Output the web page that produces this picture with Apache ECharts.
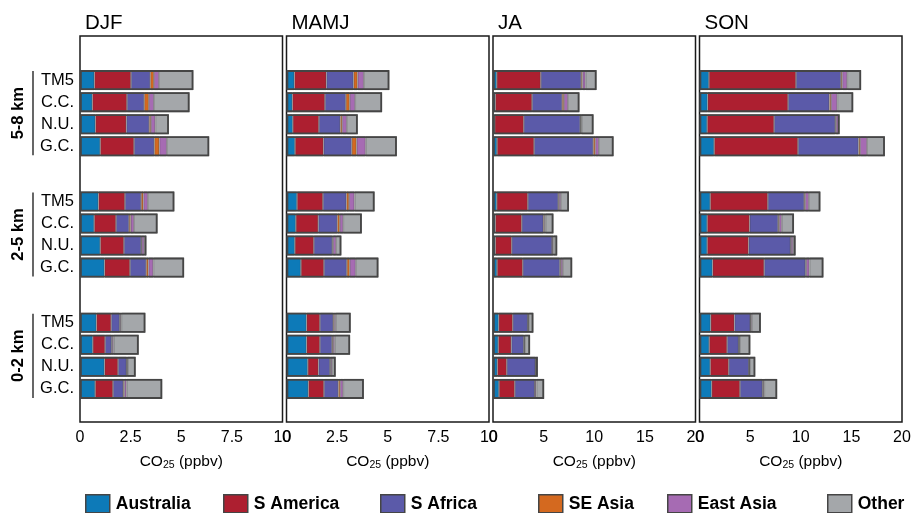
<!DOCTYPE html>
<html>
<head>
<meta charset="utf-8">
<script src="https://cdn.jsdelivr.net/npm/echarts@6/dist/echarts.min.js"></script>
<style>
html,body{margin:0;padding:0;background:#fff;}
#chart{width:916px;height:513px;}
</style>
</head>
<body>
<div id="chart"></div>
<script>
// ---- Data ----
const seasons = ['DJF', 'MAMJ', 'JA', 'SON'];
const altitudes = ['5-8 km', '2-5 km', '0-2 km'];
const models = ['TM5', 'C.C.', 'N.U.', 'G.C.'];
const regions = ['Australia', 'S America', 'S Africa', 'SE Asia', 'East Asia', 'Other'];
const xMax = [10, 10, 20, 20];
const xInterval = [2.5, 2.5, 5, 5];
const axisTitle = 'CO{s|25} (ppbv)';

// values ordered: 5-8 km (TM5, C.C., N.U., G.C.), 2-5 km (...), 0-2 km (...)
const djfAustralia = [0.71, 0.61, 0.76, 1.00, 0.91, 0.70, 1.00, 1.21, 0.81, 0.63, 1.21, 0.75];
const djfSAmerica  = [1.81, 1.71, 1.53, 1.67, 1.31, 1.08, 1.17, 1.26, 0.73, 0.61, 0.67, 0.88];
const djfSAfrica   = [0.95, 0.85, 1.13, 1.00, 0.80, 0.64, 0.85, 0.80, 0.42, 0.32, 0.42, 0.51];
const djfSEAsia    = [0.18, 0.23, 0.08, 0.25, 0.11, 0.08, 0.03, 0.11, 0.03, 0.03, 0.02, 0.05];
const djfEastAsia  = [0.25, 0.25, 0.22, 0.37, 0.22, 0.17, 0.12, 0.24, 0.05, 0.07, 0.03, 0.11];
const djfOther     = [1.70, 1.76, 0.67, 2.09, 1.31, 1.16, 0.11, 1.52, 1.19, 1.24, 0.40, 1.76];

const mamjAustralia = [0.39, 0.29, 0.31, 0.42, 0.52, 0.46, 0.41, 0.71, 0.99, 0.99, 1.05, 1.08];
const mamjSAmerica  = [1.58, 1.61, 1.29, 1.41, 1.28, 1.11, 0.94, 1.14, 0.66, 0.66, 0.53, 0.77];
const mamjSAfrica   = [1.34, 1.03, 1.06, 1.39, 1.16, 0.94, 0.91, 1.13, 0.66, 0.60, 0.57, 0.71];
const mamjSEAsia    = [0.20, 0.19, 0.09, 0.24, 0.13, 0.12, 0.04, 0.14, 0.05, 0.05, 0.03, 0.09];
const mamjEastAsia  = [0.31, 0.27, 0.23, 0.45, 0.27, 0.17, 0.15, 0.30, 0.07, 0.08, 0.07, 0.15];
const mamjOther     = [1.26, 1.33, 0.54, 1.54, 0.99, 0.92, 0.26, 1.12, 0.74, 0.76, 0.18, 1.02];

const jaAustralia = [0.37, 0.23, 0.17, 0.40, 0.37, 0.23, 0.23, 0.40, 0.56, 0.52, 0.43, 0.59];
const jaSAmerica  = [4.35, 3.63, 2.87, 3.66, 3.07, 2.61, 1.62, 2.54, 1.39, 1.29, 0.93, 1.56];
const jaSAfrica   = [3.99, 2.97, 5.57, 5.84, 3.00, 2.14, 3.99, 3.66, 1.49, 1.23, 2.83, 1.98];
const jaSEAsia    = [0.13, 0.17, 0.07, 0.20, 0.09, 0.10, 0.03, 0.10, 0.03, 0.06, 0.04, 0.03];
const jaEastAsia  = [0.30, 0.40, 0.06, 0.36, 0.17, 0.10, 0.10, 0.20, 0.06, 0.04, 0.03, 0.13];
const jaOther     = [1.09, 1.14, 1.19, 1.45, 0.80, 0.79, 0.37, 0.92, 0.46, 0.52, 0.17, 0.76];

const sonAustralia = [0.93, 0.80, 0.76, 1.45, 1.06, 0.76, 0.76, 1.29, 1.10, 0.96, 1.06, 1.20];
const sonSAmerica  = [8.60, 7.95, 6.61, 8.28, 5.69, 4.19, 4.09, 5.10, 2.35, 1.77, 1.83, 2.80];
const sonSAfrica   = [4.44, 4.08, 6.04, 5.98, 3.59, 2.81, 4.15, 4.08, 1.57, 1.14, 1.99, 2.23];
const sonSEAsia    = [0.13, 0.16, 0.07, 0.15, 0.10, 0.10, 0.04, 0.07, 0.03, 0.03, 0.04, 0.06];
const sonEastAsia  = [0.49, 0.62, 0.23, 0.69, 0.36, 0.26, 0.20, 0.32, 0.10, 0.07, 0.03, 0.10];
const sonOther     = [1.37, 1.57, 0.13, 1.76, 1.14, 1.21, 0.25, 1.38, 0.91, 1.05, 0.56, 1.28];

const seasonData = [
  [djfAustralia, djfSAmerica, djfSAfrica, djfSEAsia, djfEastAsia, djfOther],
  [mamjAustralia, mamjSAmerica, mamjSAfrica, mamjSEAsia, mamjEastAsia, mamjOther],
  [jaAustralia, jaSAmerica, jaSAfrica, jaSEAsia, jaEastAsia, jaOther],
  [sonAustralia, sonSAmerica, sonSAfrica, sonSEAsia, sonEastAsia, sonOther]
];

// ---- Styling / layout ----
const colors = ['#0d7ab8', '#ad1f30', '#5b5aa9', '#d4691f', '#a66bb3', '#a4a7aa'];
const FONT = "'Liberation Sans', Arial, Helvetica, sans-serif";
const panelLeft = [80, 286.5, 493, 699.5];
const panelWidth = 202.5;
const panelTop = 36, panelHeight = 386;
// category slots (boundaryGap false): 36 slots; groups start at slot 4, 15, 26; rows every 2 slots
const nSlots = 36;
const groupStartSlot = [4, 15, 26];
const rowStep = 2;

const slotOfRow = [];
altitudes.forEach((a, g) => models.forEach((m, k) => slotOfRow.push(groupStartSlot[g] + k * rowStep)));
const categories = new Array(nSlots).fill('');
slotOfRow.forEach((s, i) => { categories[s] = models[i % models.length]; });

function toSlots(arr) {
  const out = new Array(nSlots).fill('-');
  arr.forEach((v, i) => { out[slotOfRow[i]] = v; });
  return out;
}

const grids = [], xAxes = [], yAxes = [], series = [], titles = [];
seasons.forEach((s, p) => {
  grids.push({left: panelLeft[p], top: panelTop, width: panelWidth, height: panelHeight,
    show: true, borderColor: '#1a1a1a', borderWidth: 1.5, containLabel: false});
  titles.push({text: s, left: panelLeft[p], top: 8,
    textStyle: {fontFamily: FONT, fontSize: 20.5, fontWeight: 'normal', color: '#000'}});
  xAxes.push({type: 'value', gridIndex: p, min: 0, max: xMax[p], interval: xInterval[p],
    splitLine: {show: false}, axisLine: {show: false}, axisTick: {show: false},
    axisLabel: {fontFamily: FONT, fontSize: 16, color: '#000', margin: 8, showMinLabel: true, showMaxLabel: true},
    name: axisTitle, nameLocation: 'middle', nameGap: 31,
    nameTextStyle: {fontFamily: FONT, fontSize: 15.5, color: '#000',
      rich: {s: {fontFamily: FONT, fontSize: 10.5, color: '#000', padding: [7, 0, 0, 0]}}}
  });
  yAxes.push({type: 'category', gridIndex: p, data: categories, inverse: true, boundaryGap: false,
    axisLine: {show: false}, axisTick: {show: false}, splitLine: {show: false},
    axisLabel: {show: p === 0, interval: 0, fontFamily: FONT, fontSize: 16.5, color: '#000', margin: 6}
  });
  const vals = seasonData[p];
  regions.forEach((r, k) => {
    series.push({type: 'bar', name: r, xAxisIndex: p, yAxisIndex: p, stack: 'tot' + p,
      data: toSlots(vals[k]), barWidth: 20, barGap: '-100%',
      itemStyle: {color: colors[k], borderColor: 'rgba(70,70,70,0.55)', borderWidth: 0.8},
      emphasis: {disabled: true}, animation: false});
  });
  const totals = vals[0].map((_, i) => +vals.reduce((acc, arr) => acc + arr[i], 0).toFixed(3));
  series.push({type: 'bar', name: 'outline' + p, xAxisIndex: p, yAxisIndex: p,
    data: toSlots(totals), barWidth: 20, barGap: '-100%', z: 5,
    itemStyle: {color: 'rgba(0,0,0,0)', borderColor: '#454545', borderWidth: 1.8},
    emphasis: {disabled: true}, animation: false, silent: true});
});

const legendLeft = [80, 218, 375, 533, 662, 822];
const legends = regions.map((r, k) => ({
  data: [r], left: legendLeft[k], top: 489, orient: 'horizontal', icon: 'rect',
  itemWidth: 24, itemHeight: 18, itemGap: 8, selectedMode: false,
  itemStyle: {borderColor: '#454545', borderWidth: 1.5},
  textStyle: {fontFamily: FONT, fontSize: 17.5, fontWeight: 'bold', color: '#000', padding: [0, 0, 0, 1]}
}));

const chart = echarts.init(document.getElementById('chart'), null, {renderer: 'canvas'});
chart.setOption({
  animation: false,
  backgroundColor: '#fff',
  title: titles,
  legend: legends,
  grid: grids,
  xAxis: xAxes,
  yAxis: yAxes,
  series: series
});

// group labels and brackets on the left of the first panel
const graphics = [];
altitudes.forEach((a, g) => {
  const y1 = chart.convertToPixel({gridIndex: 0}, [0, groupStartSlot[g]])[1];
  const y2 = chart.convertToPixel({gridIndex: 0}, [0, groupStartSlot[g] + rowStep * (models.length - 1)])[1];
  graphics.push({type: 'line', shape: {x1: 33, y1: y1 - 9, x2: 33, y2: y2 + 9},
    style: {stroke: '#000', lineWidth: 1.2}});
  graphics.push({type: 'text', x: 18, y: (y1 + y2) / 2, rotation: Math.PI / 2,
    style: {text: a, fontFamily: FONT, fontSize: 16.5, fontWeight: 'bold', fill: '#000',
      align: 'center', verticalAlign: 'middle'}});
});
chart.setOption({graphic: graphics});
</script>
</body>
</html>
